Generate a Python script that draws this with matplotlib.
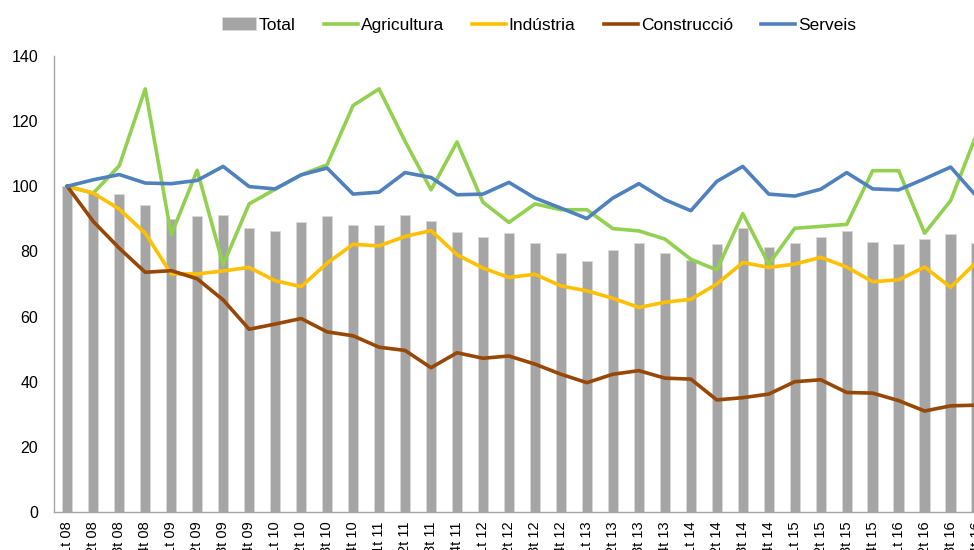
import numpy as np
import matplotlib
matplotlib.use("Agg")
import matplotlib.pyplot as plt

plt.rcParams['font.family'] = ['Liberation Sans', 'DejaVu Sans']

quarters = ['1t 08', '2t 08', '3t 08', '4t 08', '1t 09', '2t 09', '3t 09', '4t 09',
            '1t 10', '2t 10', '3t 10', '4t 10', '1t 11', '2t 11', '3t 11', '4t 11',
            '1t 12', '2t 12', '3t 12', '4t 12', '1t 13', '2t 13', '3t 13', '4t 13',
            '1t 14', '2t 14', '3t 14', '4t 14', '1t 15', '2t 15', '3t 15', '4t 15',
            '1t 16', '2t 16', '3t 16', '4t 16']

total = [100, 97.9, 97.7, 94.3, 90.0, 91.0, 91.2, 87.1,
         86.3, 88.9, 91.0, 88.1, 88.0, 91.2, 89.2, 85.9,
         84.4, 85.6, 82.7, 79.5, 77.0, 80.4, 82.6, 79.5,
         77.3, 82.3, 87.3, 81.5, 82.5, 84.3, 86.2, 82.9,
         82.4, 83.7, 85.4, 82.6]

agricultura = [100, 97.9, 106.3, 129.9, 85.1, 104.9, 75.9, 94.6,
               99.1, 103.5, 106.6, 124.8, 129.9, 113.8, 98.9, 113.6,
               95.1, 88.9, 94.6, 92.8, 92.8, 87.0, 86.3, 83.8,
               77.6, 74.3, 91.6, 76.1, 87.1, 87.7, 88.3, 104.8,
               104.8, 85.6, 95.6, 116.0]

industria = [100, 97.9, 93.0, 85.6, 73.1, 73.1, 74.0, 75.1,
             71.0, 69.2, 76.4, 82.2, 81.7, 84.6, 86.4, 79.0,
             74.9, 72.0, 73.0, 69.4, 67.9, 65.6, 62.8, 64.4,
             65.3, 70.0, 76.6, 75.1, 76.1, 78.2, 75.2, 70.7,
             71.3, 75.2, 69.0, 76.8]

construccio = [100, 89.2, 81.0, 73.6, 74.1, 71.6, 65.1, 56.1,
               57.7, 59.4, 55.3, 54.1, 50.6, 49.6, 44.3, 48.9,
               47.2, 47.9, 45.4, 42.3, 39.7, 42.3, 43.4, 41.1,
               40.8, 34.4, 35.1, 36.2, 40.0, 40.6, 36.7, 36.5,
               34.2, 31.0, 32.6, 32.8]

serveis = [100, 102.0, 103.6, 101.0, 100.8, 101.8, 106.1, 99.9,
           99.2, 103.5, 105.6, 97.6, 98.2, 104.2, 102.7, 97.4,
           97.6, 101.2, 96.4, 93.3, 90.1, 96.4, 100.8, 95.9,
           92.5, 101.5, 106.1, 97.6, 97.0, 99.1, 104.2, 99.2,
           98.9, 102.3, 105.9, 96.9]

x = np.arange(len(quarters))

fig = plt.figure(figsize=(9.74, 5.5), dpi=100)
# the chart runs past the right edge of the picture, as in the original
ax = fig.add_axes([54.3 / 974, 38 / 550, 935.3 / 974, 456 / 550])

bars = ax.bar(x, total, width=0.4, color='#a5a5a5', edgecolor='#d9d9d9', linewidth=0.6,
              label='Total', zorder=2)
l1, = ax.plot(x, agricultura, color='#92d050', lw=2.6, label='Agricultura', zorder=3)
l2, = ax.plot(x, industria, color='#ffc000', lw=2.6, label='Indústria', zorder=3)
l3, = ax.plot(x, construccio, color='#974706', lw=2.6, label='Construcció', zorder=3)
l4, = ax.plot(x, serveis, color='#4f81bd', lw=2.6, label='Serveis', zorder=3)

ax.set_xlim(-0.5, len(quarters) - 0.5)
ax.set_ylim(0, 140)
ax.set_yticks(range(0, 141, 20))
ax.set_xticks(x)
ax.set_xticklabels(quarters, rotation=90, va='top', ha='center', fontsize=10.5)
ax.tick_params(axis='y', length=0, pad=11.5, labelsize=11.5)
ax.tick_params(axis='x', length=0, pad=7)

for s in ['top', 'right']:
    ax.spines[s].set_visible(False)
for s in ['left', 'bottom']:
    ax.spines[s].set_color('#a6a6a6')
    ax.spines[s].set_linewidth(1.0)

fig.legend([bars, l1, l2, l3, l4], ['Total', 'Agricultura', 'Indústria', 'Construcció', 'Serveis'],
           loc='center', bbox_to_anchor=(539 / 974, 1 - 25 / 550), ncol=5,
           frameon=False, fontsize=12.5, handlelength=1.95, handletextpad=0.15,
           columnspacing=1.65)

fig.savefig('out.png', dpi=100)
